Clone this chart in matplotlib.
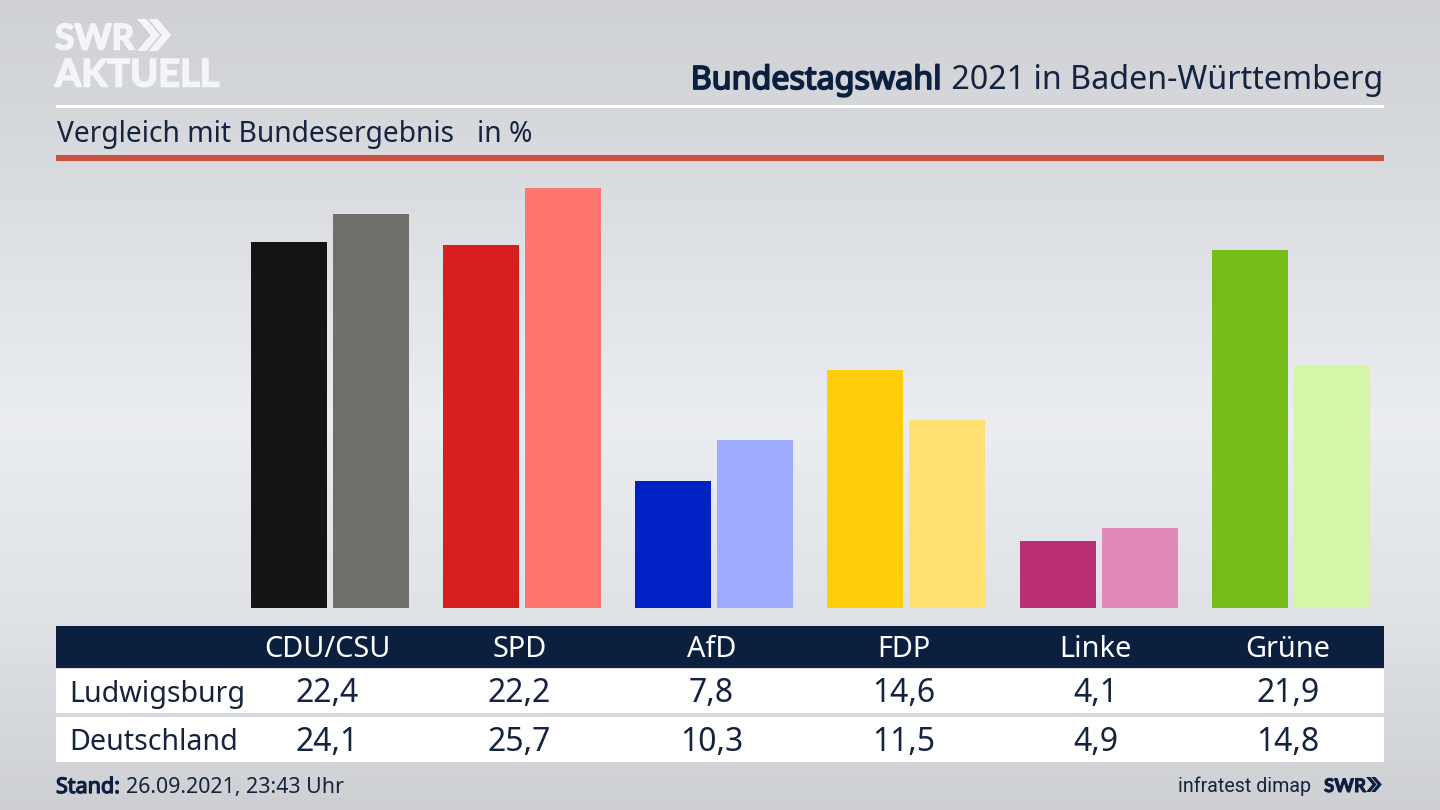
import matplotlib
matplotlib.use('Agg')
import matplotlib.pyplot as plt
import matplotlib.patheffects as pe
import numpy as np
from matplotlib.patches import Rectangle, Polygon

plt.rcParams['font.family'] = ['Noto Sans', 'DejaVu Sans']

parteien = ['CDU/CSU', 'SPD', 'AfD', 'FDP', 'Linke', 'Grüne']
ludwigsburg = [22.4, 22.2, 7.8, 14.6, 4.1, 21.9]
deutschland = [24.1, 25.7, 10.3, 11.5, 4.9, 14.8]
farben_lb = ['#141414', '#d81f1d', '#0021c4', '#ffcd0a', '#bb2f77', '#76bc1a']
farben_de = ['#6f6e6b', '#ff7570', '#9dacff', '#ffe070', '#e088b8', '#d3f6a8']

NAVY = '#0b1f3f'
TEXT = '#14233f'
LOGO = '#f4f5f7'

fig = plt.figure(figsize=(14.4, 8.1), dpi=100)

# Hintergrund + Layout in Pixeln
ax = fig.add_axes([0, 0, 1, 1])
ax.set_xlim(0, 1440)
ax.set_ylim(810, 0)
ax.axis('off')
stops_y = [0, 150, 420, 620, 810]
stops_v = [0.81, 0.845, 0.92, 0.875, 0.805]
grad = np.interp(np.arange(810), stops_y, stops_v).reshape(-1, 1)
bg = np.dstack([grad, grad * 1.01, grad * 1.03]).clip(0, 1)
ax.imshow(bg, extent=(0, 1440, 810, 0), aspect='auto', zorder=0)


def chevrons(x, y, h, w, color):
    # zwei Pfeile vom SWR Logo
    d = h * 0.5
    t = w * 0.52
    for i in range(2):
        x0 = x + i * t
        pts = [(x0, y), (x0 + w * 0.42, y), (x0 + w * 0.42 + d * 0.85, y + d),
               (x0 + w * 0.42, y + h), (x0, y + h), (x0 + d * 0.85, y + d)]
        ax.add_patch(Polygon(pts, closed=True, fc=color, ec='none', zorder=3))


# Noto Sans hat hier keinen Bold Schnitt, also mit Kontur verstaerken
def fett(txt, lw):
    txt.set_path_effects([pe.withStroke(linewidth=lw, foreground=txt.get_color())])
    return txt


# Logo
fett(ax.text(55, 49.5, 'SWR', color=LOGO, fontsize=25.5, va='baseline', ha='left', family='Lato', fontweight='bold'), 1.2)
chevrons(137, 19, 32, 22, LOGO)
fett(ax.text(55, 86.5, 'AKTUELL', color=LOGO, fontsize=27.3, va='baseline', ha='left', family='Lato', fontweight='bold'), 1.2)

# Titel
t2 = ax.text(1383, 89, ' 2021 in Baden-Württemberg', color=TEXT, fontsize=23.2, ha='right', va='baseline')
fig.canvas.draw()
bb = t2.get_window_extent()
fett(ax.text(bb.x0 - 1, 89, 'Bundestagswahl', color=NAVY, fontsize=23.2, ha='right', va='baseline'), 1.3)

ax.add_patch(Rectangle((56, 104.5), 1328, 3, fc='white', ec='none'))
ax.text(57, 142, 'Vergleich mit Bundesergebnis', color=TEXT, fontsize=20.3, va='baseline')
ax.text(477, 142, 'in %', color=TEXT, fontsize=20.3, va='baseline')
ax.add_patch(Rectangle((56, 155), 1328, 5.5, fc='#c9503e', ec='none'))

# Balken, 0 liegt bei y=608
bax = fig.add_axes([0, (810 - 608) / 810, 1, 430 / 810])
bax.set_xlim(0, 1440)
bax.set_ylim(0, 430 / 16.33)
bax.axis('off')
x = 330 + np.arange(6) * 192.15
bax.bar(x - 41, ludwigsburg, width=76, color=farben_lb)
bax.bar(x + 41, deutschland, width=76, color=farben_de)

# Tabelle
ax.add_patch(Rectangle((56, 626), 1328, 42, fc=NAVY, ec='none', zorder=2))
ax.add_patch(Rectangle((56, 668.5), 1328, 44.5, fc='white', ec='none', zorder=2))
ax.add_patch(Rectangle((56, 717), 1328, 45, fc='white', ec='none', zorder=2))
ax.text(69, 702, 'Ludwigsburg', color=TEXT, fontsize=20.6, va='baseline', zorder=3)
ax.text(69, 750, 'Deutschland', color=TEXT, fontsize=20.6, va='baseline', zorder=3)

xt = 327 + np.arange(6) * 192.2
for i in range(6):
    ax.text(xt[i], 657, parteien[i], color='white', fontsize=20.8, ha='center', va='baseline', zorder=3)
    ax.text(xt[i], 702, f'{ludwigsburg[i]:.1f}'.replace('.', ','), color=TEXT, fontsize=23, ha='center', va='baseline', zorder=3)
    ax.text(xt[i], 751, f'{deutschland[i]:.1f}'.replace('.', ','), color=TEXT, fontsize=23, ha='center', va='baseline', zorder=3)

# Fusszeile
fett(ax.text(56, 793, 'Stand:', color=NAVY, fontsize=15.5, va='baseline', zorder=3), 0.9)
ax.text(126, 793, '26.09.2021, 23:43 Uhr', color=TEXT, fontsize=15.4, va='baseline', zorder=3)
ax.text(1311, 792, 'infratest dimap', color=TEXT, fontsize=14.1, ha='right', va='baseline', family='Roboto', zorder=3)
fett(ax.text(1324, 792, 'SWR', color=NAVY, fontsize=13.5, ha='left', va='baseline', family='Lato', fontweight='bold', zorder=3), 0.7)
chevrons(1366, 777, 15, 10, NAVY)

fig.savefig('out.png', dpi=100)
